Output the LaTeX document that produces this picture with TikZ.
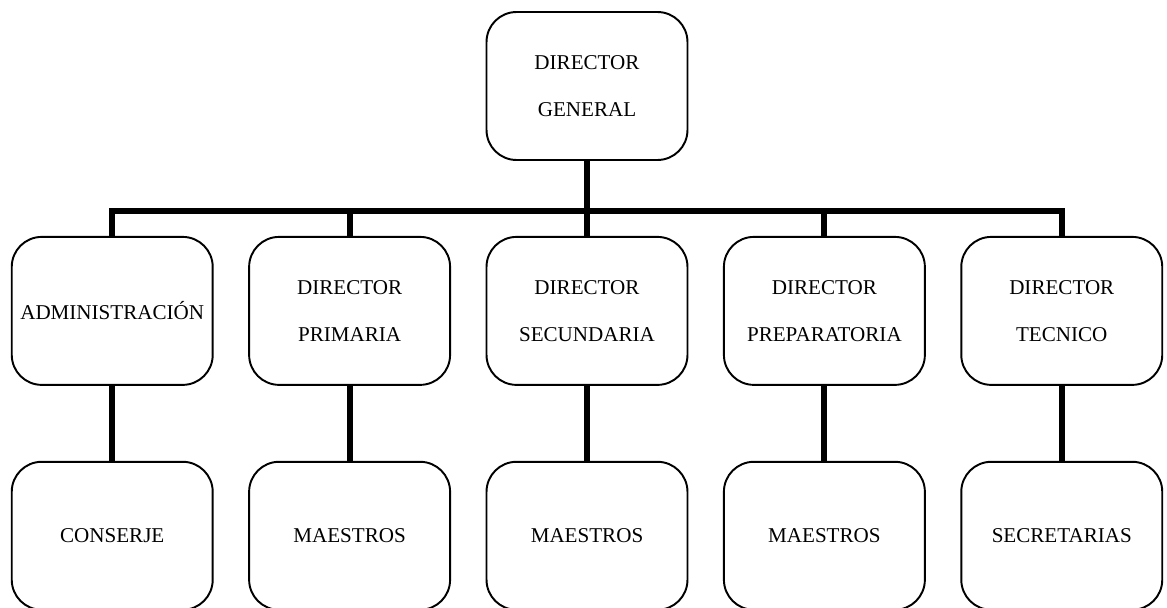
\documentclass[tikz,border=0pt]{standalone}
\usepackage{fontspec}
\setmainfont{Liberation Serif}
\usetikzlibrary{positioning}

\begin{document}
\begin{tikzpicture}[
			x=0.02cm, y=-0.02cm,
			node distance=1.5cm and 0.69cm,
			every node/.style={align=center, font=\fontsize{12}{27}\selectfont},
			box/.style={rectangle, draw, line width=1.1pt, rounded corners=0.6cm, text width=3.88cm, inner sep=0.07cm, minimum height=2.96cm},
			link/.style={line width=3.4pt}
			]
			\useasboundingbox (0,0) rectangle (1167,608);
			
			% Nodes
			\node[box] (general) at (587,86) {DIRECTOR\\GENERAL};
			\node[box, below=of general] (secundaria) {DIRECTOR\\SECUNDARIA};
			\node[box, left=of secundaria] (primaria) {DIRECTOR\\PRIMARIA};
			\node[box, left=of primaria] (admin) {ADMINISTRACIÓN};
			\node[box, right=of secundaria] (preparatoria) {DIRECTOR\\PREPARATORIA};
			\node[box, right=of preparatoria] (tecnico) {DIRECTOR\\TECNICO};
			
			\node[box, below=of admin] (conserje) {CONSERJE};
			\node[box, below=of primaria] (maestrosP) {MAESTROS};
			\node[box, below=of secundaria] (maestrosS) {MAESTROS};
			\node[box, below=of preparatoria] (maestrosR) {MAESTROS};
			\node[box, below=of tecnico] (secretarias) {SECRETARIAS};
			
			% Lines
			\coordinate[below=1.0cm of general.south] (bus);
			\draw[link] (general) -- (bus);
			\draw[link] (admin.north) -- (admin.north |- bus) -- (tecnico.north |- bus) -- (tecnico.north);
			\foreach \a/\b in {admin/conserje, primaria/maestrosP, secundaria/maestrosS, preparatoria/maestrosR, tecnico/secretarias} {
				\draw[link] (\a.north) -- (\a.north |- bus);
				\draw[link] (\a) -- (\b);
			}
		\end{tikzpicture}
\end{document}
